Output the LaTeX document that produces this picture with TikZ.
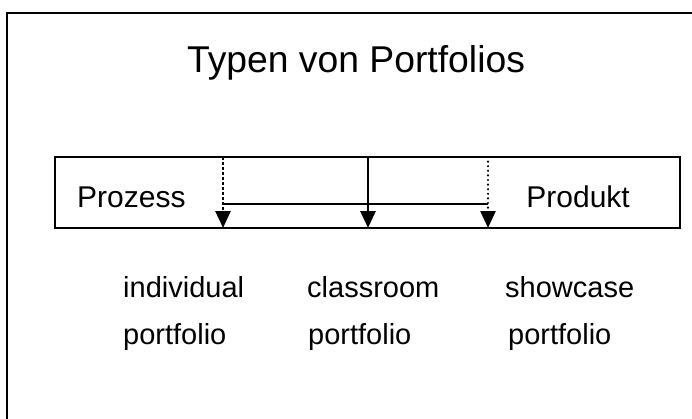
\documentclass[tikz,border=0pt]{standalone}
\usepackage{fontspec}
\setmainfont{Liberation Sans}
\usetikzlibrary{arrows.meta}
\begin{document}
\begin{tikzpicture}[x=1pt,y=-1pt,
  lbl/.style={inner sep=0pt,anchor=base west,font=\fontsize{29}{34}\selectfont},
  boxlbl/.style={inner sep=0pt,font=\fontsize{30}{36}\selectfont},
  tip/.style={-{Triangle[width=15pt,length=17pt]}},
  thinline/.style={line width=1.7pt}]
\useasboundingbox (0,0) rectangle (692,418);
\clip (0,0) rectangle (692,418);
\fill[white] (0,0) rectangle (692,418);
% outer frame (cut off at right and bottom)
\draw[line width=2.4pt] (7,440) -- (7,13) -- (720,13);
% title
\node[inner sep=0pt,anchor=base,font=\fontsize{37.3}{44}\selectfont] (title) at (356,72) {Typen von Portfolios};
% scale box
\node[draw,thinline,inner sep=0pt,minimum width=625pt,minimum height=71pt] (box) at (367.5,192.5) {};
\node[boxlbl,anchor=base west] (prozess) at (77,207) {Prozess};
\node[boxlbl,anchor=base east] (produkt) at (630,207) {Produkt};
% arrows
\coordinate (t1) at (223,157); \coordinate (b1) at (223,228);
\coordinate (t2) at (368,157); \coordinate (b2) at (368,228);
\coordinate (t3) at (488,157); \coordinate (b3) at (488,228);
\coordinate (h1) at (223,204); \coordinate (h3) at (488,204);
\draw[thinline] (h1) -- (h3);
\draw[tip,line width=2.6pt,dash pattern=on 3pt off 2pt] (t1) -- (b1);
\draw[tip,line width=2.8pt] (t2) -- (b2);
\draw[tip,line width=2.4pt,line cap=round,dash pattern=on 0pt off 4.6pt] (t3) -- (b3);
% labels
\node[lbl] (ind) at (123,297) {individual};
\node[lbl] (cla) at (307,297) {classroom};
\node[lbl] (sho) at (505,297) {showcase};
\node[lbl] (p1) at (123,344) {portfolio};
\node[lbl] (p2) at (308,344) {portfolio};
\node[lbl] (p3) at (508,344) {portfolio};
\end{tikzpicture}
\end{document}
